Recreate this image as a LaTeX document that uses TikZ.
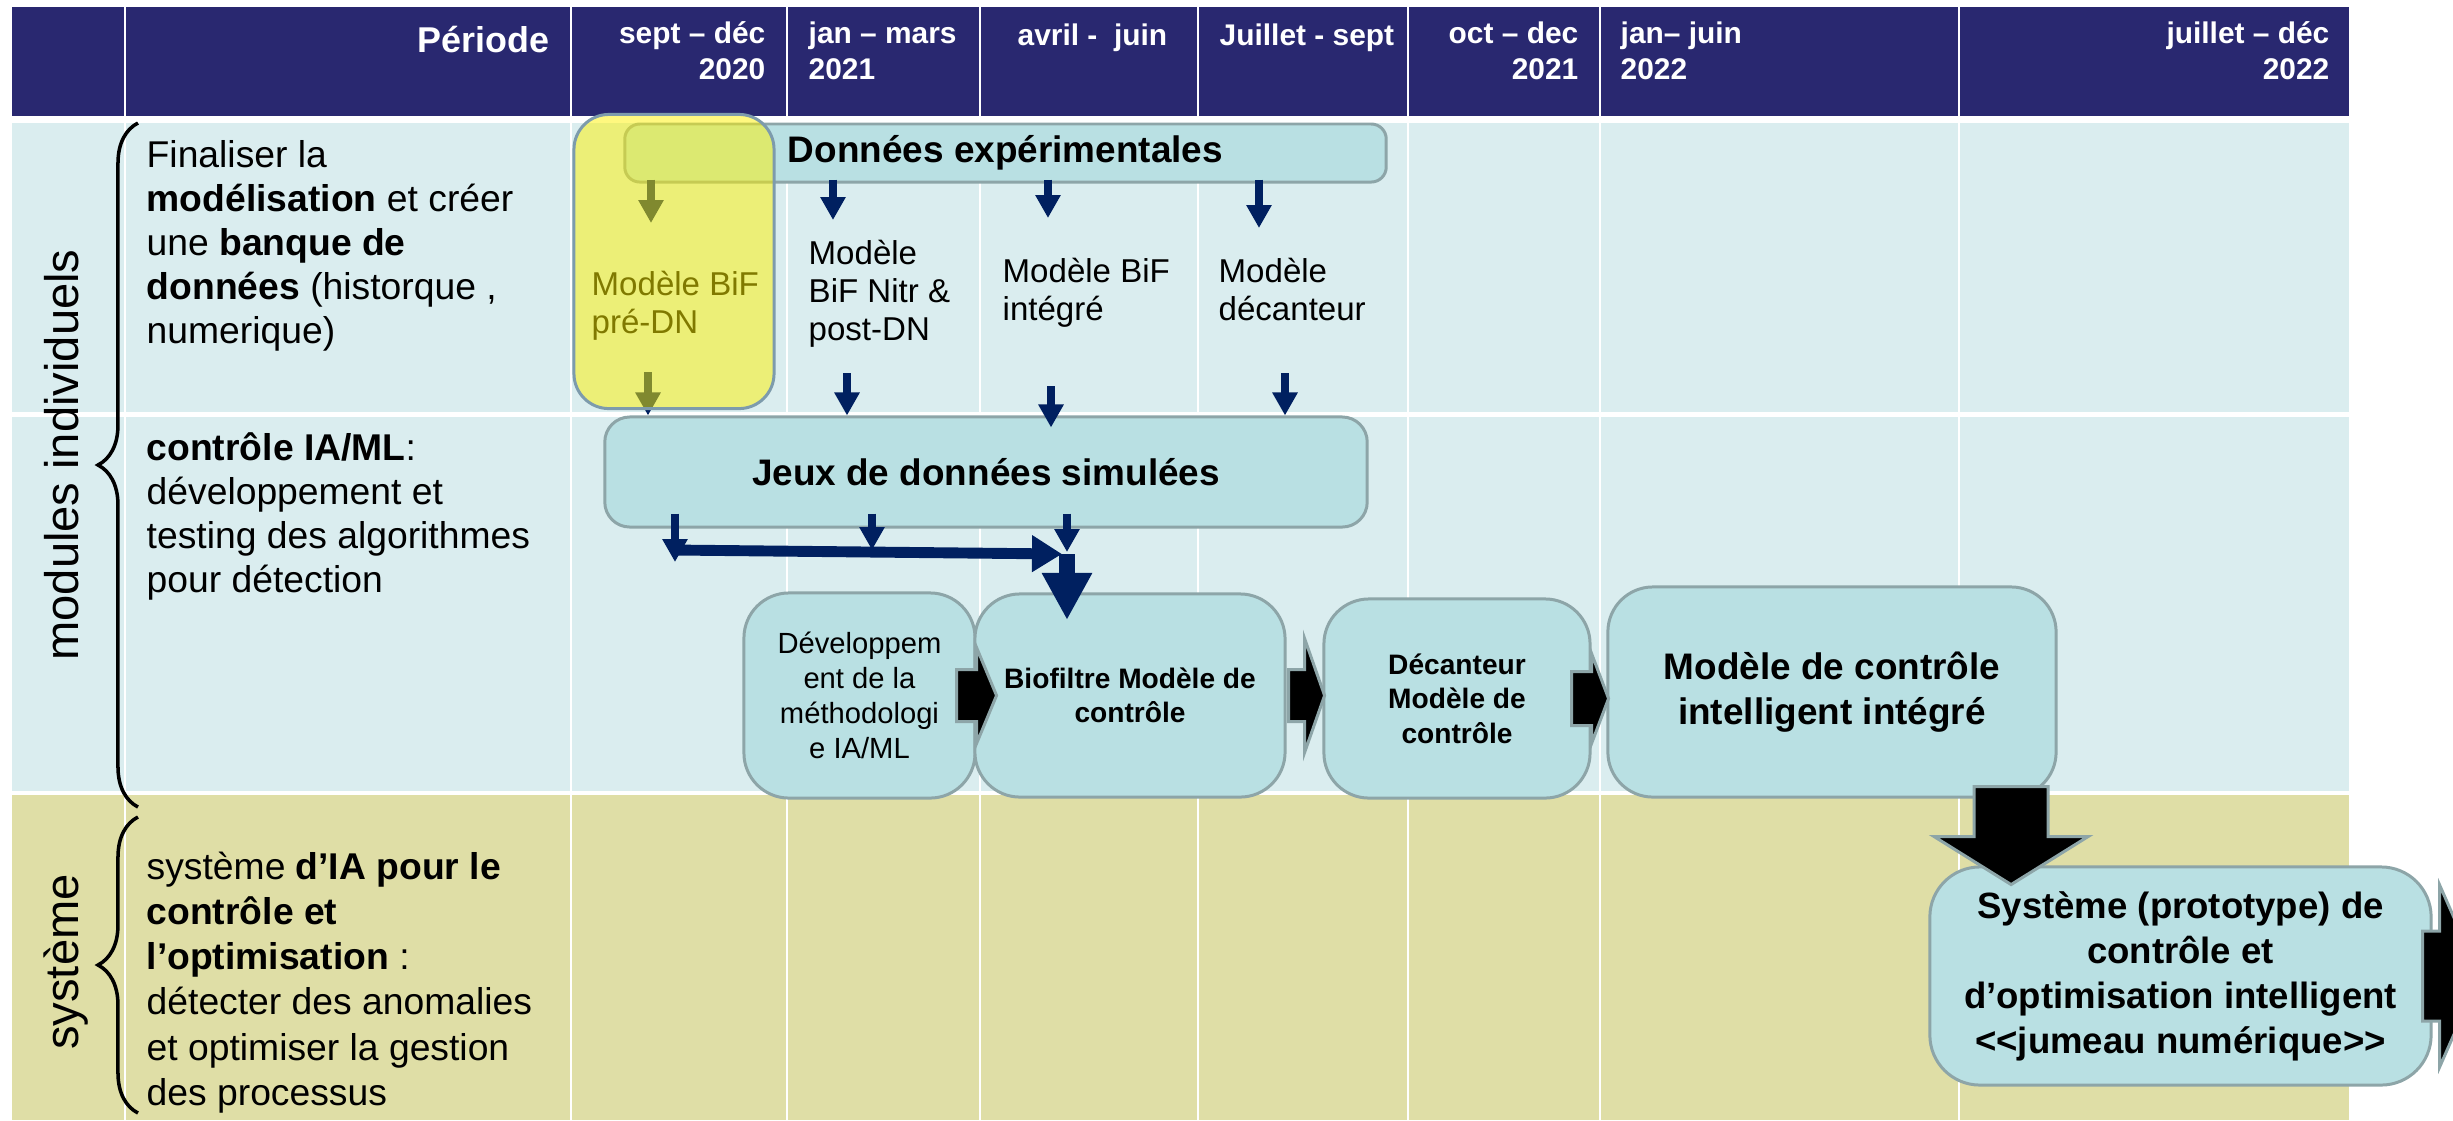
\documentclass[tikz,border=0pt]{standalone}
\usepackage{fontspec}
\setmainfont{Liberation Sans}
\usepackage{tikz}
\usetikzlibrary{arrows.meta,decorations.pathreplacing,calc}

\definecolor{headblue}{RGB}{41,40,112}
\definecolor{rowblue}{RGB}{218,237,239}
\definecolor{rowolive}{RGB}{223,222,166}
\definecolor{boxfill}{RGB}{185,224,227}
\definecolor{boxline}{RGB}{141,165,168}
\definecolor{ylwline}{RGB}{125,155,172}
\definecolor{arrnavy}{RGB}{0,32,96}

\newcommand{\fsz}[2]{\fontsize{#1}{#2}\selectfont}
% block arrow: rear point, angle, shaft length, half shaft, half head, head length
\newcommand{\blockarrow}[6]{%
  \draw[blockarr, shift={(#1)}, rotate=#2] (0,-#4) -- (#3,-#4) -- (#3,-#5) -- ({#3+#6},0)
    -- (#3,#5) -- (#3,#4) -- (0,#4) -- cycle;}

\begin{document}
\begin{tikzpicture}[x=0.01cm, y=-0.01cm]
    \tikzstyle{box} = [draw=boxline, fill=boxfill, line width=0.85pt, align=center, inner sep=0pt]
    \tikzstyle{headtxt} = [text=white, font=\bfseries\fsz{8.5}{10}, inner sep=0pt]
    \tikzstyle{desc} = [font=\fsz{10.6}{12.5}, align=left, inner sep=0pt, anchor=base west]
    \tikzstyle{modtxt} = [font=\fsz{9.4}{10.8}, align=left, inner sep=0pt, anchor=base west]
    \tikzstyle{sidelbl} = [font=\fsz{13.4}{16}, rotate=90, anchor=base, inner sep=0pt]
    \tikzstyle{smallarr} = [arrnavy, line width=2.1pt, -{Triangle[width=0.24cm, length=0.23cm]}]
    \tikzstyle{bararr} = [arrnavy, line width=3.1pt, -{Triangle[width=0.35cm, length=0.30cm]}]
    \tikzstyle{bigarr} = [arrnavy, line width=4.8pt, -{Triangle[width=0.47cm, length=0.47cm]}]
    \tikzstyle{blockarr} = [fill=black, draw=boxline, line width=0.85pt, line join=miter]
    \tikzstyle{bracket} = [decorate, decoration={brace, amplitude=0.4cm}, line width=1pt]

    \useasboundingbox (0,0) rectangle (2453,1120);

    % grille
    \fill[headblue] (12,7) rectangle (2349,116);
    \fill[rowblue] (12,123) rectangle (2349,793);
    \fill[rowolive] (12,793) rectangle (2349,1120);
    \foreach \x in {125,571,787,980,1198,1408,1600,1959} {
        \draw[white, line width=0.8pt] (\x,7) -- (\x,1120);
    }
    \draw[white, line width=1.2pt] (12,414.5) -- (2349,414.5);
    \draw[white, line width=1.2pt] (12,793) -- (2349,793);

    % en-tete (base = derniere ligne)
    \node[headtxt, font=\bfseries\fsz{10.2}{12}, anchor=base east] (periode) at (550,52) {Période};
    \node[headtxt, align=right, anchor=base east] (per1) at (766,79) {sept – déc\\2020};
    \node[headtxt, align=left, anchor=base west] (per2) at (808,79) {jan – mars\\2021};
    \node[headtxt, anchor=base west] (per3) at (1017,45) {avril -~~juin};
    \node[headtxt, anchor=base west] (per4) at (1219,45) {Juillet - sept};
    \node[headtxt, align=right, anchor=base east] (per5) at (1579,79) {oct – dec\\2021};
    \node[headtxt, align=left, anchor=base west] (per6) at (1620,79) {jan– juin\\2022};
    \node[headtxt, align=right, anchor=base east] (per7) at (2330,79) {juillet – déc\\2022};

    % colonne de gauche
    \node[sidelbl] (modind) at (78,455) {modules individuels};
    \node[sidelbl] (syst) at (78,962) {système};
    \draw[bracket] (138,807) -- (138,123);
    \draw[bracket] (138,1113) -- (138,817);

    \node[desc] (desc1) at (146,343) {Finaliser la\\\textbf{modélisation} et créer\\une \textbf{banque de}\\\textbf{données} (historque ,\\numerique)};
    \node[desc] (desc2) at (146,592) {\textbf{contrôle IA/ML}:\\développement et\\testing des algorithmes\\pour détection};
    \node[desc, font=\fsz{10.6}{12.8}] (desc3) at (146,1105) {système \textbf{d’IA pour le}\\\textbf{contrôle et}\\\textbf{l’optimisation} :\\détecter des anomalies\\et optimiser la gestion\\des processus};

    % modules
    \node[box, rounded corners=0.15cm, minimum width=7.61cm, minimum height=0.58cm,
          font=\bfseries\fsz{10.5}{12}] (donnees) at (1005.5,153) {Données expérimentales};
    \node[modtxt] (mbif) at (591,333) {Modèle BiF\\pré-DN};
    \node[modtxt] (mnitr) at (808,340) {Modèle\\BiF Nitr \&\\post-DN};
    \node[modtxt] (minteg) at (1002,320) {Modèle BiF\\intégré};
    \node[modtxt] (mdec) at (1218,320) {Modèle\\décanteur};

    \node[box, rounded corners=0.25cm, minimum width=7.62cm, minimum height=1.10cm,
          font=\bfseries\fsz{10.5}{12}] (jeux) at (986,472) {Jeux de données simulées};

    \coordinate (a1) at (651,223);
    \coordinate (a2) at (833,220);
    \coordinate (a3) at (1048,218);
    \coordinate (a4) at (1259,228);
    \foreach \a in {a1,a2,a3,a4} {
        \draw[smallarr] ($(\a |- donnees.south)+(0,-4)$) -- (\a);
    }
    \coordinate (b1) at (648,372);
    \coordinate (b2) at (847,373);
    \coordinate (b3) at (1051,386);
    \coordinate (b4) at (1285,373);
    \foreach \b/\d in {b1/0,b2/0,b3/12,b4/0} {
        \draw[smallarr] (\b) -- ($(\b |- jeux.north)+(0,\d)$);
    }

    % controle
    \node[box, rounded corners=0.45cm, minimum width=2.31cm, minimum height=2.05cm,
          font=\fsz{8.3}{10}] (dev) at (859.5,695.5) {Développem\\ent de la\\méthodologi\\e IA/ML};
    \node[box, rounded corners=0.45cm, minimum width=3.10cm, minimum height=2.03cm,
          font=\bfseries\fsz{8}{9.8}] (biof) at (1130,695.5) {Biofiltre Modèle de\\contrôle};
    \node[box, rounded corners=0.45cm, minimum width=2.66cm, minimum height=1.99cm,
          font=\bfseries\fsz{8}{9.8}] (decant) at (1457,698.5) {Décanteur\\Modèle de\\contrôle};
    \node[box, rounded corners=0.45cm, minimum width=4.48cm, minimum height=2.10cm,
          font=\bfseries\fsz{10.5}{12.8}] (modctrl) at (1832,692) {Modèle de contrôle\\intelligent intégré};
    \node[box, rounded corners=0.5cm, minimum width=5.01cm, minimum height=2.18cm,
          font=\bfseries\fsz{10.4}{12.8}] (systeme) at (2180.5,976) {Système (prototype) de\\contrôle et\\d’optimisation intelligent\\<{}<jumeau numérique>{}>};

    \coordinate (c1) at (675,562);
    \coordinate (c2) at (872,550);
    \coordinate (c3) at (1067,552);
    \foreach \c in {c1,c2,c3} {
        \draw[smallarr] ($(\c |- jeux.south)+(0,-15)$) -- (\c);
    }
    \coordinate (barl) at (673,550);
    \coordinate (barr) at (1062,554);
    \coordinate (bigtip) at (1067,620);
    \draw[bararr] (barl) -- (barr);
    \draw[bigarr] (bigtip |- barr) -- (bigtip);

    \blockarrow{[xshift=-0.2cm]dev.east}{0}{20}{26}{48}{20}
    \blockarrow{[xshift=0.02cm]biof.east}{0}{16}{26}{57}{20}
    \blockarrow{[xshift=-0.2cm]decant.east}{0}{20}{27}{45}{17}
    \blockarrow{[xshift=1.79cm, yshift=0.12cm]modctrl.south}{-90}{50}{37}{77}{48}
    \blockarrow{[xshift=-0.1cm]systeme.east}{0}{17}{45}{91}{40}

    % surlignage
    \node[draw=ylwline, fill=yellow, fill opacity=0.5, rounded corners=0.35cm, line width=0.85pt,
          minimum width=2cm, minimum height=2.94cm] (ylw) at (674,261.5) {};
\end{tikzpicture}
\end{document}
